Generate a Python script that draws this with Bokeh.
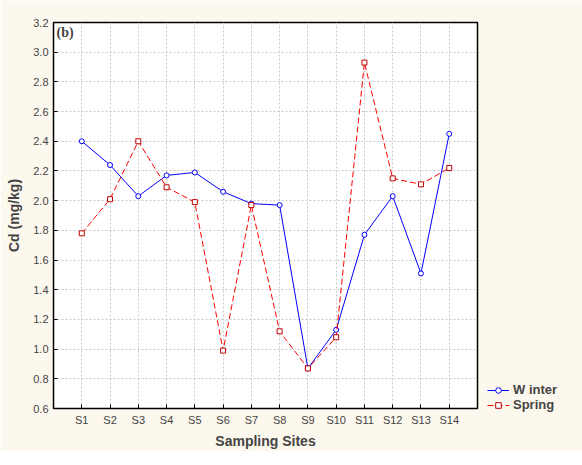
from bokeh.plotting import figure
from bokeh.models import Legend, LegendItem, Label, CustomJSTickFormatter
from bokeh.embed import file_html
from bokeh.resources import INLINE

sites = ["S%d" % i for i in range(1, 15)]
winter = [2.40, 2.24, 2.03, 2.17, 2.19, 2.06, 1.98, 1.97, 0.87, 1.13, 1.77, 2.03, 1.51, 2.45]
spring = [1.78, 2.01, 2.40, 2.09, 1.99, 0.99, 1.97, 1.12, 0.87, 1.08, 2.93, 2.15, 2.11, 2.22]
y_ticks = [0.6, 0.8, 1.0, 1.2, 1.4, 1.6, 1.8, 2.0, 2.2, 2.4, 2.6, 2.8, 3.0, 3.2]

p = figure(frame_width=424, frame_height=386, x_range=sites, y_range=(0.6, 3.2),
           output_backend="svg", toolbar_location=None,
           min_border_left=53, min_border_top=22, min_border_bottom=39, min_border_right=0,
           background_fill_color="white", border_fill_color="#fdf8ee")
p.x_range.range_padding = 0.5
p.x_range.range_padding_units = "absolute"
p.outline_line_color = "black"
p.outline_line_width = 1.5

lw = p.line(sites, winter, color="blue", line_width=1)
sw = p.scatter(sites, winter, marker="circle", size=5, line_color="blue", fill_color="white")
ls = p.line(sites, spring, color="red", line_width=1, line_dash="6 3")
ss = p.scatter(sites, spring, marker="square", size=5, line_color="#c00000", fill_color="white")

p.yaxis.ticker = y_ticks
p.yaxis.formatter = CustomJSTickFormatter(code="return tick.toFixed(1)")
for ax in [p.xaxis[0], p.yaxis[0]]:
    ax.major_tick_in = 4
    ax.major_tick_out = 0
    ax.minor_tick_line_color = None
    ax.axis_line_color = None
    ax.major_label_text_font = "Liberation Sans"
    ax.major_label_text_font_size = "11px"
    ax.axis_label_text_font = "Liberation Sans"
    ax.axis_label_text_font_size = "14px"
    ax.axis_label_text_font_style = "bold"
p.xaxis.axis_label = "Sampling Sites"
p.yaxis.axis_label = "Cd (mg/kg)"
p.xaxis.axis_label_standoff = 4
p.yaxis.axis_label_standoff = 8

p.grid.grid_line_color = "#c8c8c8"
p.grid.grid_line_dash = "2 2"

p.add_layout(Label(x=3, y=3.08, x_units="screen", text="(b)", text_font="Liberation Serif",
                   text_font_style="bold", text_font_size="14px"))

legend = Legend(items=[LegendItem(label="W inter", renderers=[lw, sw]),
                       LegendItem(label="Spring", renderers=[ls, ss])],
                location=(10, -4), background_fill_alpha=0, border_line_color=None,
                label_text_font="Liberation Sans", label_text_font_size="13px",
                label_text_font_style="bold", glyph_width=22, glyph_height=14,
                spacing=0, padding=0, label_standoff=4, margin=0)
p.add_layout(legend, "right")

open("out.html", "w").write(file_html(p, INLINE))
